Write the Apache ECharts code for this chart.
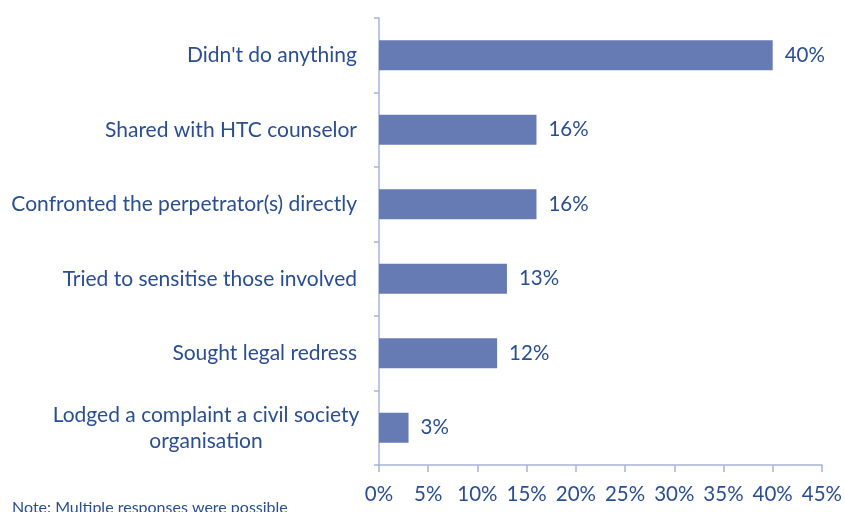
<!DOCTYPE html>
<html>
<head>
<meta charset="utf-8">
<script src="https://cdn.jsdelivr.net/npm/echarts@6/dist/echarts.min.js"></script>
<style>
  html, body { margin: 0; padding: 0; background: #ffffff; }
  #chart { width: 845px; height: 512px; }
</style>
</head>
<body>
<div id="chart"></div>
<script>
// Responses to the incident, listed top to bottom
const categories = [
  "Didn't do anything",
  "Shared with HTC counselor",
  "Confronted the perpetrator(s) directly",
  "Tried to sensitise those involved",
  "Sought legal redress",
  "Lodged a complaint a civil society\norganisation"
];
const shares = [40, 16, 16, 13, 12, 3];
const xTicks = [0, 5, 10, 15, 20, 25, 30, 35, 40, 45];
const noteText = "Note: Multiple responses were possible";

const textColor = '#2B4E91';
const axisColor = '#A8B4D8';
const barColor = '#667BB4';
const font = 'Lato';

// Multi-line category names are centred line by line inside a fixed-width box
function categoryLabel(name) {
  if (name.indexOf('\n') < 0) return name;
  return name.split('\n').map(function (line) { return '{c|' + line + '}'; }).join('\n');
}

const chart = echarts.init(document.getElementById('chart'));
chart.setOption({
  animation: false,
  grid: { left: 379, right: 18, top: 18, bottom: 47 },
  xAxis: {
    type: 'value',
    min: xTicks[0],
    max: xTicks[xTicks.length - 1],
    interval: 5,
    axisLine: { show: true, lineStyle: { color: axisColor, width: 1.5 } },
    axisTick: { show: true, length: 7, lineStyle: { color: axisColor, width: 1.5 } },
    splitLine: { show: false },
    axisLabel: { color: textColor, fontFamily: font, fontSize: 20.5, margin: 19, formatter: '{value}%' }
  },
  yAxis: {
    type: 'category',
    inverse: true,
    data: categories,
    axisLine: { show: true, lineStyle: { color: axisColor, width: 1.5 } },
    axisTick: { show: true, length: 5, lineStyle: { color: axisColor, width: 1.5 } },
    axisLabel: {
      color: textColor, fontFamily: font, fontSize: 21, margin: 22, align: 'right', lineHeight: 26,
      formatter: categoryLabel,
      rich: { c: { width: 302, align: 'center', color: textColor, fontFamily: font, fontSize: 21, lineHeight: 26 } }
    }
  },
  series: [{
    type: 'bar',
    data: shares,
    barWidth: 30,
    itemStyle: { color: barColor },
    label: {
      show: true,
      position: 'right',
      distance: 12,
      formatter: '{c}%',
      color: textColor,
      fontFamily: font,
      fontSize: 20.5
    }
  }],
  graphic: [{
    type: 'text',
    left: 12,
    top: 500,
    style: { text: noteText, fill: textColor, font: '16px ' + font }
  }]
});
</script>
</body>
</html>
